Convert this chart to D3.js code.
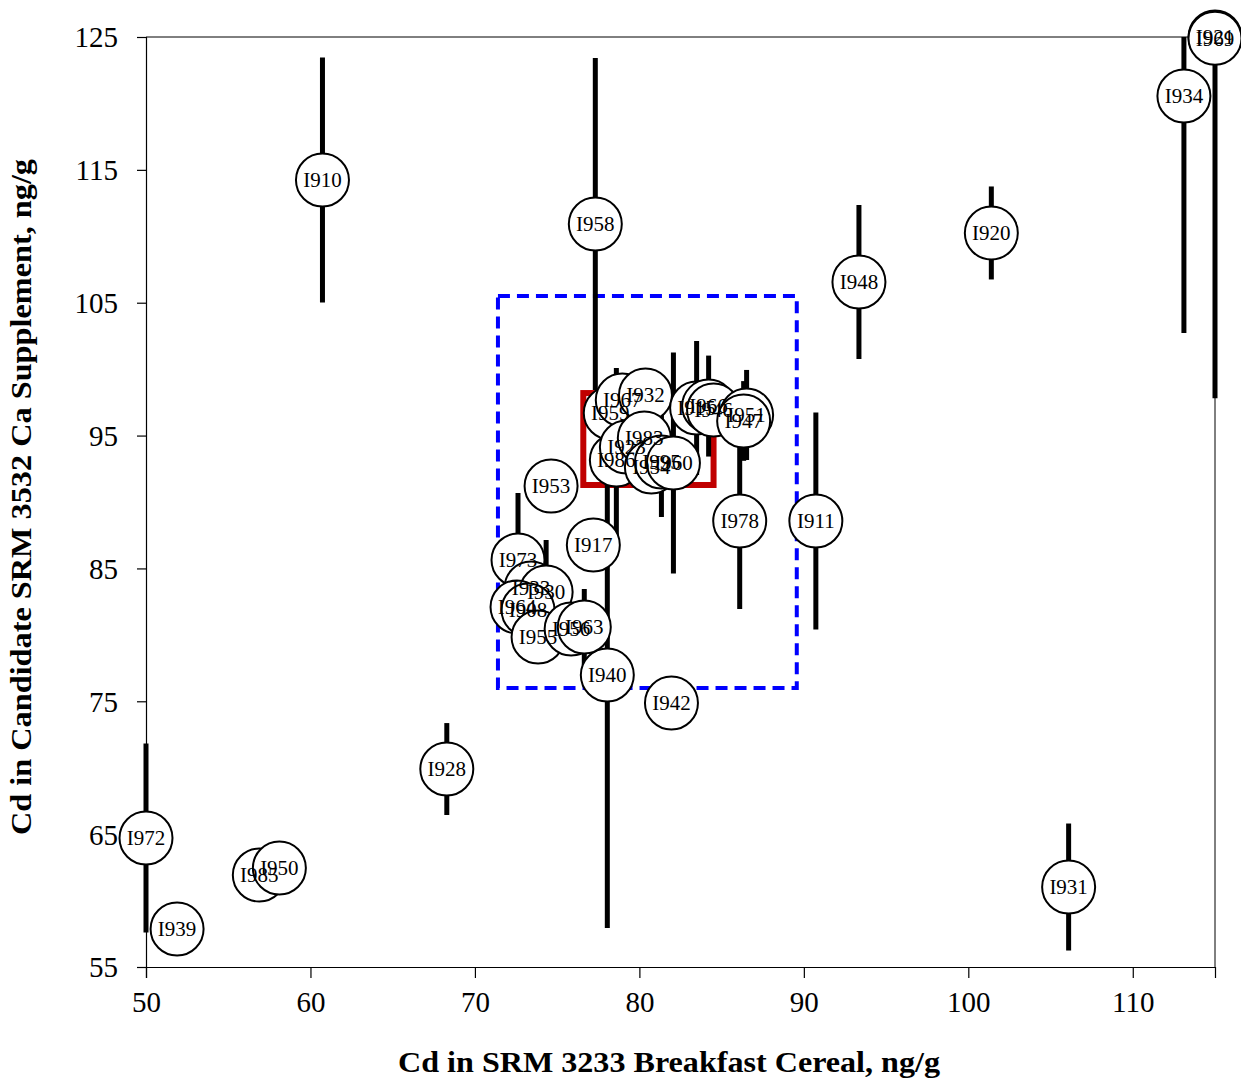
<!DOCTYPE html>
<html>
<head>
<meta charset="utf-8">
<script src="https://cdn.jsdelivr.net/npm/d3@7"></script>
<style>
  body { margin: 0; background: #fff; }
  svg { display: block; }
  text { font-family: "Liberation Serif", "Times New Roman", serif; }
</style>
</head>
<body>
<svg id="chart" width="1241" height="1088"></svg>
<script>
// Lab codes, Cd in SRM 3233 (x), Cd in candidate SRM 3532 (y), and y uncertainty (ng/g)
const labs = ["I910","I958","I920","I948","I934","I921","I969","I972","I939","I985","I950","I928","I931","I911","I978",
  "I942","I940","I917","I953","I973","I933","I930","I964","I908","I955","I956","I963",
  "I986","I959","I967","I932","I923","I983","I954","I995","I960","I915","I966","I946","I951","I947"];
const cereal = [60.73,77.32,101.40,93.35,113.11,115.0,115.0,50.0,51.89,56.89,58.11,68.29,106.10,90.73,86.10,
  81.95,78.05,77.20,74.63,72.62,73.41,74.33,72.56,73.23,73.84,75.85,76.65,
  78.60,78.23,78.96,80.37,79.21,80.30,80.73,81.34,82.07,83.48,84.21,84.51,86.52,86.34];
const supplement = [114.24,110.92,110.25,106.56,120.56,125.0,124.9,64.71,57.86,61.92,62.45,69.90,61.02,88.57,88.57,
  74.87,76.98,86.76,91.20,85.63,83.53,83.23,82.10,81.87,79.84,80.44,80.59,
  93.16,96.70,97.68,98.05,94.14,94.82,92.63,93.01,92.93,97.07,97.22,96.92,96.55,96.10];
const uncertainty = [9.22,12.49,3.50,5.80,17.84,2.0,27.1,7.11,1.5,1.5,1.5,3.46,4.78,8.17,6.62,
  1.5,19.04,1.5,1.5,5.04,1.5,3.91,1.5,1.5,1.5,1.5,2.86,
  6.92,1.5,1.5,1.5,1.5,1.5,1.5,4.14,8.32,5.04,3.80,1.5,3.39,3.00];

// Consensus regions: inner (red) and outer (blue dashed) boxes, [xMin, xMax, yMin, yMax]
const innerBox = [76.59, 84.51, 91.28, 98.20];
const outerBox = [71.40, 89.57, 76.00, 105.50];

const xTicks = [50,60,70,80,90,100,110];
const yTicks = [55,65,75,85,95,105,115,125];

const xTitle = "Cd in SRM 3233 Breakfast Cereal, ng/g";
const yTitle = "Cd in Candidate SRM 3532 Ca Supplement, ng/g";

const margin = { left: 146, right: 26, top: 37, bottom: 121 };
const W = 1241, H = 1088;
const svg = d3.select("#chart");

const x = d3.scaleLinear().domain([50, 115]).range([margin.left, W - margin.right]);
const y = d3.scaleLinear().domain([55, 125]).range([H - margin.bottom, margin.top]);

const points = labs.map((lab, i) => ({
  lab, x: cereal[i], y: supplement[i], u: uncertainty[i]
}));

// frame: top and right edges
svg.append("line").attr("x1", x(50)).attr("x2", x(115)).attr("y1", y(125)).attr("y2", y(125))
  .attr("stroke", "#000").attr("stroke-width", 1);
svg.append("line").attr("x1", x(115)).attr("x2", x(115)).attr("y1", y(125)).attr("y2", y(55))
  .attr("stroke", "#000").attr("stroke-width", 1);

// axes
const xAxis = svg.append("g").attr("transform", `translate(0,${y(55)})`)
  .call(d3.axisBottom(x).tickValues(xTicks).tickSize(11).tickPadding(13).tickFormat(d3.format("d")));
const yAxis = svg.append("g").attr("transform", `translate(${x(50)},0)`)
  .call(d3.axisLeft(y).tickValues(yTicks).tickSize(9).tickPadding(19).tickFormat(d3.format("d")));
[xAxis, yAxis].forEach(g => {
  g.select(".domain").attr("stroke", "#000").attr("stroke-width", 1.2);
  g.selectAll(".tick line").attr("stroke", "#000").attr("stroke-width", 1.2);
  g.selectAll(".tick text").attr("fill", "#000")
    .style("font-family", '"Liberation Serif", "Times New Roman", serif').style("font-size", "29px");
});
yAxis.selectAll(".tick text").attr("dy", "0.34em");

// outer dashed box
svg.append("rect")
  .attr("x", x(outerBox[0])).attr("y", y(outerBox[3]))
  .attr("width", x(outerBox[1]) - x(outerBox[0])).attr("height", y(outerBox[2]) - y(outerBox[3]))
  .attr("fill", "none").attr("stroke", "#0000ff").attr("stroke-width", 4)
  .attr("stroke-dasharray", "12,7");

// inner red box
svg.append("rect")
  .attr("x", x(innerBox[0])).attr("y", y(innerBox[3]))
  .attr("width", x(innerBox[1]) - x(innerBox[0])).attr("height", y(innerBox[2]) - y(innerBox[3]))
  .attr("fill", "none").attr("stroke", "#c00000").attr("stroke-width", 6);

// uncertainty bars, clipped to the axis range
const clampY = v => Math.max(55, Math.min(125, v));
svg.append("g").selectAll("line").data(points).join("line")
  .attr("x1", d => x(d.x)).attr("x2", d => x(d.x))
  .attr("y1", d => y(clampY(d.y + d.u))).attr("y2", d => y(clampY(d.y - d.u)))
  .attr("stroke", "#000").attr("stroke-width", 5);

// lab markers: all circles first, then all codes on top
svg.append("g").selectAll("circle").data(points).join("circle")
  .attr("cx", d => x(d.x)).attr("cy", d => y(d.y))
  .attr("r", 26.5).attr("fill", "#fff").attr("stroke", "#000").attr("stroke-width", 2);
svg.append("g").selectAll("text").data(points).join("text")
  .text(d => d.lab)
  .attr("x", d => x(d.x)).attr("y", d => y(d.y))
  .attr("text-anchor", "middle").attr("dy", "0.35em")
  .style("font-size", "21px").attr("fill", "#000");

// axis titles
svg.append("text").text(xTitle)
  .attr("x", 669).attr("y", 1072).attr("text-anchor", "middle")
  .attr("textLength", 542).attr("lengthAdjust", "spacingAndGlyphs")
  .style("font-size", "29px").style("font-weight", "bold");
svg.append("text").text(yTitle)
  .attr("transform", "translate(31,497) rotate(-90)").attr("text-anchor", "middle")
  .attr("textLength", 676).attr("lengthAdjust", "spacingAndGlyphs")
  .style("font-size", "29px").style("font-weight", "bold");
</script>
</body>
</html>
